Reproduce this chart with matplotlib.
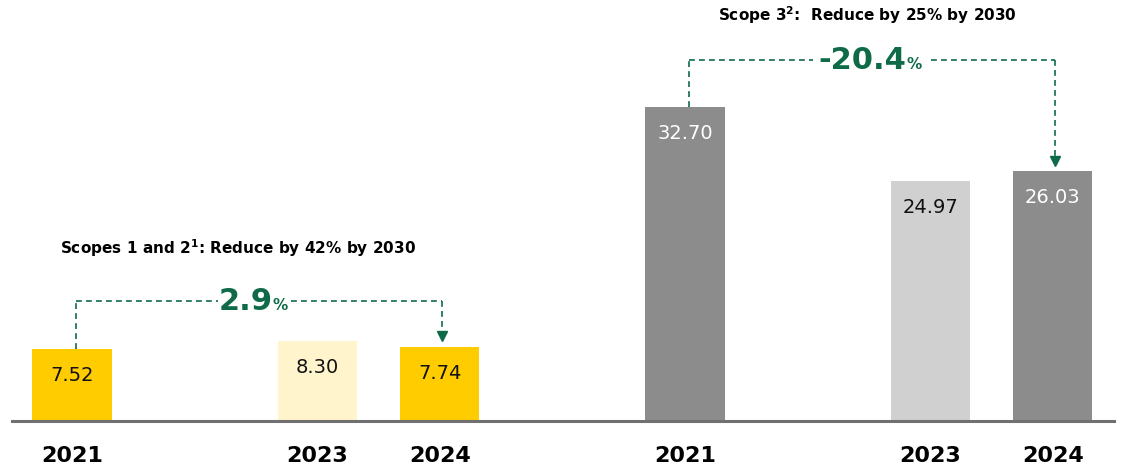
import matplotlib
matplotlib.use('Agg')
import matplotlib.pyplot as plt

# Emissions bars, two groups (Scopes 1+2 and Scope 3)
years = ['2021', '2023', '2024', '2021', '2023', '2024']
values = [7.52, 8.30, 7.74, 32.70, 24.97, 26.03]
slots = [0, 2, 3, 5, 7, 8]
bar_colors = ['#ffcc00', '#fff4cc', '#ffcc00', '#8c8c8c', '#d0d0d0', '#8c8c8c']
label_colors = ['#111111', '#111111', '#111111', 'white', '#111111', 'white']

titles = ['Scopes 1 and 2$^\\mathbf{1}$: Reduce by 42% by 2030',
          'Scope 3$^\\mathbf{2}$:  Reduce by 25% by 2030']
changes = ['2.9', '-20.4']

green = '#0f6b47'

fig = plt.figure(figsize=(11.21, 4.70), dpi=100)
ax = fig.add_axes([0, 49 / 470, 1, 421 / 470])
ax.set_xlim(-72 / 122.6, (1121 - 72) / 122.6)
ax.set_ylim(0, 421 / 9.6)

ax.bar(slots, values, width=0.645, color=bar_colors, zorder=2)

# value labels inside the bars
for x, v, c in zip(slots, values, label_colors):
    ax.annotate(f'{v:.2f}', xy=(x, v), xytext=(0, -19), textcoords='offset points',
                ha='center', va='center', fontsize=14, color=c)

# baseline
ax.plot([-0.49, 8.5], [0, 0], color='#707070', lw=2.2, clip_on=False, zorder=3)

for s in ax.spines.values():
    s.set_visible(False)
ax.set_yticks([])
ax.set_xticks(slots)
ax.set_xticklabels(years, fontsize=16, fontweight='bold')
ax.tick_params(axis='x', length=0, pad=18)

# group titles
ax.text(1.35, 18.0, titles[0], ha='center', va='center', fontsize=11, fontweight='bold')
ax.text(6.49, 42.3, titles[1], ha='center', va='center', fontsize=11, fontweight='bold')

# dashed change brackets
groups = [(0, 2), (3, 5)]
levels = [12.5, 37.6]
gaps = [(1.19, 1.79), (6.04, 7.01)]
label_x = [1.42, 6.45]
dash = dict(color=green, lw=1.2, ls=(0, (3.5, 2.5)))
for (i, j), lvl, (g0, g1), lx, txt in zip(groups, levels, gaps, label_x, changes):
    x0, x1 = slots[i] + 0.03, slots[j] + 0.02
    tip = values[j] + 0.6
    ax.plot([x0, x0], [values[i], lvl], **dash)
    ax.plot([x0, g0], [lvl, lvl], **dash)
    ax.plot([g1, x1], [lvl, lvl], **dash)
    ax.plot([x1, x1], [lvl, tip + 0.8], **dash)
    ax.plot([x1], [tip + 0.5], marker='v', ms=7.5, color=green, mec=green)
    t = ax.text(lx, lvl, txt, ha='center', va='center', fontsize=22,
                fontweight='bold', color=green)
    ax.annotate('%', xy=(1, 0.1), xycoords=t, xytext=(-0.5, 0), textcoords='offset points',
                ha='left', va='bottom', fontsize=11, fontweight='bold', color=green)

fig.savefig('out.png', dpi=100)
